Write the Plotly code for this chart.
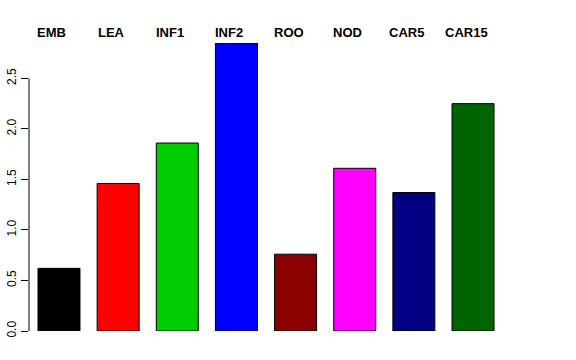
import plotly.graph_objects as go

categories = ["EMB", "LEA", "INF1", "INF2", "ROO", "NOD", "CAR5", "CAR15"]
values = [0.62, 1.46, 1.86, 2.85, 0.76, 1.61, 1.37, 2.25]
colors = ["#000000", "#FF0000", "#00CD00", "#0000FF", "#8B0000", "#FF00FF", "#000080", "#006400"]
tick_vals = [0.0, 0.5, 1.0, 1.5, 2.0, 2.5]
tick_text = ["0.0", "0.5", "1.0", "1.5", "2.0", "2.5"]

xs = list(range(len(categories)))

fig = go.Figure()
fig.add_trace(go.Bar(
    x=xs, y=values, width=0.71,
    marker=dict(color=colors, line=dict(color="black", width=1)),
    hoverinfo="skip",
))

for i, c in enumerate(categories):
    fig.add_annotation(
        x=i, xref="x", y=1, yref="paper", yanchor="middle", yshift=11, xshift=-7,
        text="<b>%s</b>" % c, showarrow=False,
        font=dict(family="Liberation Sans, Arial, sans-serif", size=13, color="black"),
    )

# y axis line from 0 to 2.5 (R style)
fig.add_shape(type="line", xref="paper", yref="y", x0=0, x1=0,
              y0=tick_vals[0], y1=tick_vals[-1], line=dict(color="black", width=1))

fig.update_layout(
    width=576, height=360,
    margin=dict(l=29, r=73, t=43, b=29, autoexpand=False),
    plot_bgcolor="white", paper_bgcolor="white",
    showlegend=False,
    font=dict(family="Liberation Sans, Arial, sans-serif", size=12, color="black"),
    xaxis=dict(range=[-0.507, 7.507], visible=False, showgrid=False, zeroline=False),
    yaxis=dict(range=[0, 2.85], showgrid=False, zeroline=False, showline=False,
               automargin=False,
               tickvals=tick_vals, ticktext=tick_text, ticks="outside", ticklen=7,
               tickcolor="black", tickwidth=1, tickangle=-90,
               tickfont=dict(size=12, family="Liberation Sans, Arial, sans-serif")),
)

fig.write_html("out.html", config={"displayModeBar": False},
               post_script="document.body.style.margin='0';")
